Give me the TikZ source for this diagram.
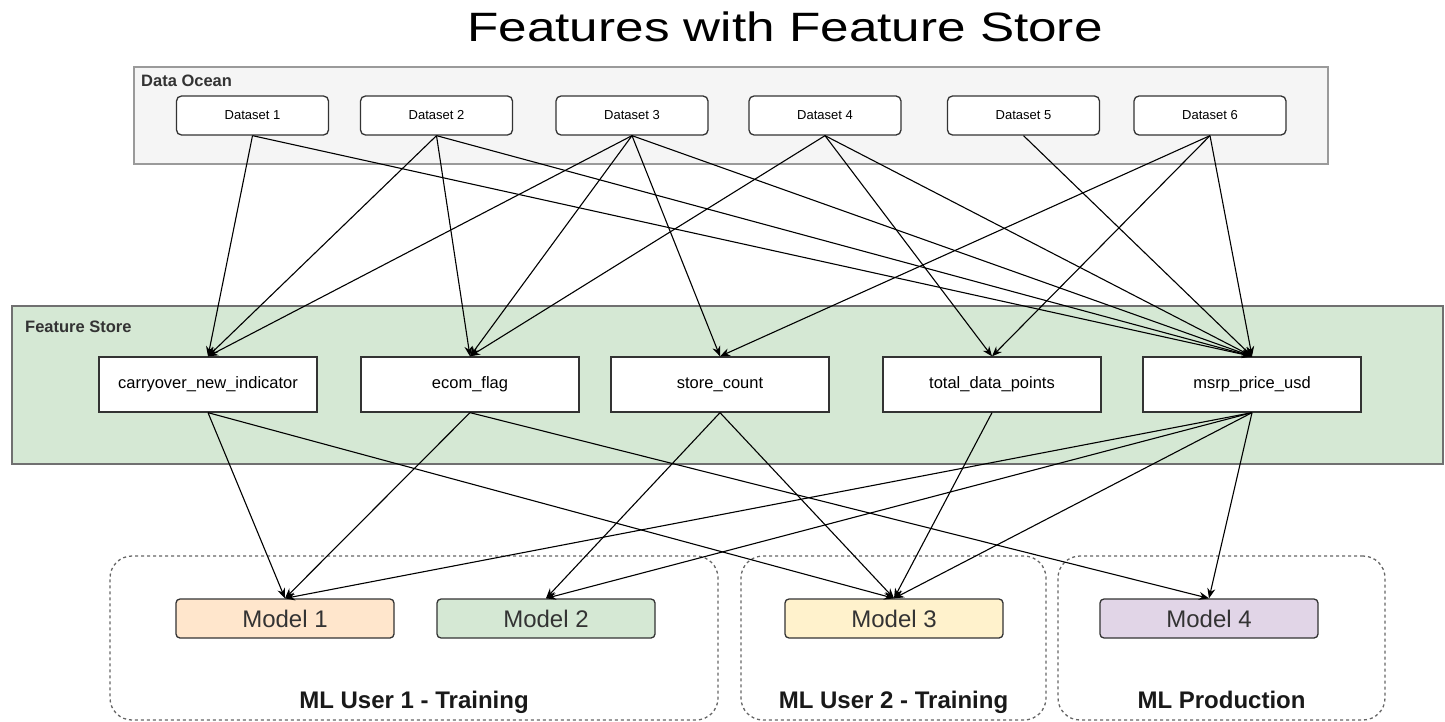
\documentclass[tikz,border=0pt]{standalone}
\usepackage{graphicx}
\usepackage{fontspec}
\setmainfont{Liberation Sans}
\usetikzlibrary{arrows.meta}
\definecolor{oceanfill}{HTML}{F5F5F5}
\definecolor{oceanline}{HTML}{9A9A9A}
\definecolor{fsfill}{HTML}{D5E8D4}
\definecolor{fsline}{HTML}{707070}
\definecolor{mOne}{HTML}{FFE6CC}
\definecolor{mTwo}{HTML}{D5E8D4}
\definecolor{mThree}{HTML}{FFF2CC}
\definecolor{mFour}{HTML}{E1D5E7}
\definecolor{boxline}{HTML}{333333}
\definecolor{grpline}{HTML}{666666}
\begin{document}
\begin{tikzpicture}[x=1pt,y=-1pt,
  container/.style={inner sep=0pt, line width=1.2pt},
  dsbox/.style={draw=boxline, line width=1.3pt, fill=white, rounded corners=5pt,
    minimum width=152pt, minimum height=39pt, inner sep=0pt,
    font=\fontsize{13}{15}\selectfont},
  featbox/.style={draw=boxline, line width=1.3pt, fill=white,
    minimum width=218pt, minimum height=55pt, inner sep=0pt,
    font=\fontsize{16.5}{19}\selectfont},
  modelbox/.style={draw=boxline, line width=1.3pt, rounded corners=4pt,
    minimum width=218pt, minimum height=39pt, inner sep=0pt,
    font=\fontsize{24}{28}\selectfont, text=boxline},
  grp/.style={draw=grpline, line width=1.3pt, dash pattern=on 3pt off 3pt,
    rounded corners=22pt, inner sep=0pt},
  secLabel/.style={anchor=base west, inner sep=0pt, font=\fontsize{16.5}{19}\selectfont\bfseries, text=boxline},
  grpLabel/.style={anchor=base, inner sep=0pt, font=\fontsize{24}{28}\selectfont\bfseries, text=black!90},
  feed/.style={-{Stealth[length=10pt,width=8pt]}, line width=1.1pt, black}
]
\path[use as bounding box] (0,0) rectangle (1445,722);

% title
\node[anchor=base, inner sep=0pt, font=\fontsize{41}{48}\selectfont] (title) at (785,42)
  {\scalebox{1.25}[1]{Features with Feature Store}};

% containers
\node[container, draw=oceanline, fill=oceanfill, minimum width=1194pt, minimum height=97pt] (ocean) at (731,115.5) {};
\node[secLabel] (oceanlbl) at (141,87) {Data Ocean};

\node[container, draw=fsline, fill=fsfill, minimum width=1431pt, minimum height=158pt] (fstore) at (727.5,385) {};
\node[secLabel] (fslbl) at (25,332) {Feature Store};

\node[grp, minimum width=608pt, minimum height=164pt] (g1) at (414,638) {};
\node[grp, minimum width=305pt, minimum height=164pt] (g2) at (893.5,638) {};
\node[grp, minimum width=327pt, minimum height=164pt] (g3) at (1221.5,638) {};
\node[grpLabel] (g1lbl) at (414,708) {ML User 1 - Training};
\node[grpLabel] (g2lbl) at (893.5,708) {ML User 2 - Training};
\node[grpLabel] (g3lbl) at (1221.5,708) {ML Production};

% datasets
\node[dsbox] (d1) at (252.5,115.5) {Dataset 1};
\node[dsbox] (d2) at (436.5,115.5) {Dataset 2};
\node[dsbox] (d3) at (632,115.5) {Dataset 3};
\node[dsbox] (d4) at (825,115.5) {Dataset 4};
\node[dsbox] (d5) at (1023.5,115.5) {Dataset 5};
\node[dsbox] (d6) at (1210,115.5) {Dataset 6};

% features
\node[featbox] (f1) at (208,384.5) {carryover\_new\_indicator};
\node[featbox] (f2) at (470,384.5) {ecom\_flag};
\node[featbox] (f3) at (720,384.5) {store\_count};
\node[featbox] (f4) at (992,384.5) {total\_data\_points};
\node[featbox] (f5) at (1252,384.5) {msrp\_price\_usd};

% models
\node[modelbox, fill=mOne] (m1) at (285,618.5) {Model 1};
\node[modelbox, fill=mTwo] (m2) at (546,618.5) {Model 2};
\node[modelbox, fill=mThree] (m3) at (894,618.5) {Model 3};
\node[modelbox, fill=mFour] (m4) at (1209,618.5) {Model 4};

% datasets -> features
\foreach \s/\t in {d1/f1, d1/f5,
                   d2/f1, d2/f2, d2/f5,
                   d3/f1, d3/f2, d3/f3, d3/f5,
                   d4/f2, d4/f4, d4/f5,
                   d5/f5,
                   d6/f3, d6/f4, d6/f5}
  \draw[feed] (\s.south) -- (\t.north);

% features -> models
\foreach \s/\t in {f1/m1, f1/m3,
                   f2/m1, f2/m4,
                   f3/m2, f3/m3,
                   f4/m3,
                   f5/m1, f5/m2, f5/m3, f5/m4}
  \draw[feed] (\s.south) -- (\t.north);
\end{tikzpicture}
\end{document}
